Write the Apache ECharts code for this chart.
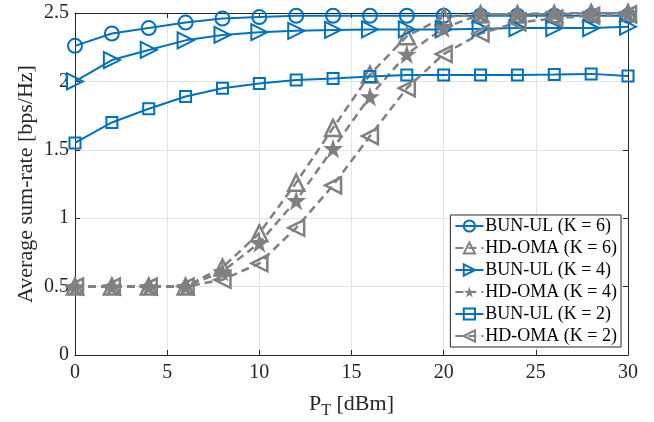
<!DOCTYPE html>
<html>
<head>
<meta charset="utf-8">
<script src="https://cdn.jsdelivr.net/npm/echarts@6/dist/echarts.min.js"></script>
<style>
  html, body { margin: 0; padding: 0; background: #fff; }
  #chart { width: 654px; height: 422px; }
</style>
</head>
<body>
<div id="chart"></div>
<script>
// transmit power P_T [dBm]
const pt = [0, 2, 4, 6, 8, 10, 12, 14, 16, 18, 20, 22, 24, 26, 28, 30]

const bunK6 = [2.26, 2.35, 2.39, 2.43, 2.46, 2.47, 2.48, 2.48, 2.48, 2.48, 2.48, 2.48, 2.48, 2.48, 2.48, 2.48]
const omaK6 = [0.5, 0.5, 0.5, 0.5, 0.64, 0.89, 1.26, 1.66, 2.05, 2.33, 2.47, 2.49, 2.49, 2.49, 2.5, 2.5]
const bunK4 = [2.0, 2.156, 2.23, 2.30, 2.34, 2.36, 2.37, 2.376, 2.38, 2.38, 2.38, 2.385, 2.39, 2.39, 2.39, 2.40]
const omaK4 = [0.5, 0.5, 0.5, 0.5, 0.61, 0.82, 1.13, 1.51, 1.89, 2.2, 2.39, 2.49, 2.49, 2.5, 2.5, 2.5]
const bunK2 = [1.55, 1.70, 1.80, 1.89, 1.95, 1.985, 2.01, 2.022, 2.035, 2.047, 2.047, 2.047, 2.047, 2.05, 2.055, 2.04]
const omaK2 = [0.5, 0.5, 0.5, 0.5, 0.55, 0.67, 0.93, 1.24, 1.6, 1.95, 2.2, 2.35, 2.43, 2.46, 2.48, 2.49]

const xTicks = [0, 5, 10, 15, 20, 25, 30]
const yTicks = [0, 0.5, 1, 1.5, 2, 2.5]

const blue = '#0072BD'
const gray = '#808080'
const ink = '#262626'
const serif = 'Liberation Serif'
const star = 'path://M50,0 L61,35 L98,35 L68,57 L79,91 L50,70 L21,91 L32,57 L2,35 L39,35 Z'

function pairs (ys) {
  return pt.map((x, i) => [x, ys[i]])
}

function bunSeries (name, ys, symbol, rotate, size) {
  return {
    name: name,
    type: 'line',
    data: pairs(ys),
    symbol: symbol,
    symbolRotate: rotate,
    symbolSize: size,
    showAllSymbol: true,
    lineStyle: { color: blue, width: 2 },
    itemStyle: { color: 'rgba(255,255,255,0)', borderColor: blue, borderWidth: 2 },
    emphasis: { disabled: true }
  }
}

function omaSeries (name, ys, symbol, rotate, size, filled) {
  return {
    name: name,
    type: 'line',
    data: pairs(ys),
    symbol: symbol,
    symbolRotate: rotate,
    symbolSize: size,
    showAllSymbol: true,
    lineStyle: { color: gray, width: 2.5, type: [8, 5] },
    itemStyle: {
      color: filled ? gray : 'rgba(255,255,255,0)',
      borderColor: gray,
      borderWidth: filled ? 0 : 2.5
    },
    emphasis: { disabled: true }
  }
}

let chart = echarts.init(document.getElementById('chart'))

const gridLine = { show: true, lineStyle: { color: '#e3e3e3', width: 1 } }
const axisLine = { show: true, onZero: false, lineStyle: { color: ink, width: 1 } }
const tick = { show: true, inside: true, length: 5, lineStyle: { color: ink } }

let option = {
  animation: false,
  backgroundColor: '#fff',
  textStyle: { fontFamily: serif },
  grid: { left: 75, right: 26, top: 13, bottom: 67, outerBoundsMode: 'none' },
  xAxis: [
    {
      type: 'value',
      min: 0,
      max: 30,
      interval: 5,
      name: '{p|P}{t|T}{p| [dBm]}',
      nameLocation: 'middle',
      nameGap: 34,
      nameMoveOverlap: false,
      nameTextStyle: {
        rich: {
          p: { fontFamily: serif, fontSize: 22, color: ink },
          t: { fontFamily: serif, fontSize: 16, color: ink, verticalAlign: 'bottom', padding: [14, 0, 0, 0] }
        }
      },
      axisLine: axisLine,
      axisTick: tick,
      axisLabel: { fontFamily: serif, fontSize: 20, color: ink, margin: 8, customValues: xTicks },
      splitLine: gridLine
    },
    {
      type: 'value',
      position: 'top',
      min: 0,
      max: 30,
      interval: 5,
      axisLine: axisLine,
      axisTick: tick,
      axisLabel: { show: false },
      splitLine: { show: false }
    }
  ],
  yAxis: [
    {
      type: 'value',
      min: 0,
      max: 2.5,
      interval: 0.5,
      name: 'Average sum-rate [bps/Hz]',
      nameLocation: 'middle',
      nameGap: 38,
      nameMoveOverlap: false,
      nameTextStyle: { fontFamily: serif, fontSize: 22, color: ink },
      axisLine: axisLine,
      axisTick: tick,
      axisLabel: {
        fontFamily: serif,
        fontSize: 20,
        color: ink,
        margin: 6,
        customValues: yTicks,
        formatter: v => String(v)
      },
      splitLine: gridLine
    },
    {
      type: 'value',
      position: 'right',
      min: 0,
      max: 2.5,
      interval: 0.5,
      axisLine: axisLine,
      axisTick: tick,
      axisLabel: { show: false },
      splitLine: { show: false }
    }
  ],
  legend: {
    orient: 'vertical',
    right: 33,
    top: 215,
    itemWidth: 28,
    itemHeight: 14,
    itemGap: 4,
    padding: [2, 4, 2, 4],
    backgroundColor: '#fff',
    borderColor: ink,
    borderWidth: 1,
    borderRadius: 0,
    textStyle: { fontFamily: serif, fontSize: 18, lineHeight: 18, color: '#000', padding: [0, 0, 0, -3] },
    data: ['BUN-UL (K = 6)', 'HD-OMA (K = 6)', 'BUN-UL (K = 4)', 'HD-OMA (K = 4)', 'BUN-UL (K = 2)', 'HD-OMA (K = 2)']
  },
  series: [
    bunSeries('BUN-UL (K = 6)', bunK6, 'circle', 0, 14),
    omaSeries('HD-OMA (K = 6)', omaK6, 'triangle', 0, 16, false),
    bunSeries('BUN-UL (K = 4)', bunK4, 'triangle', -90, 16),
    omaSeries('HD-OMA (K = 4)', omaK4, star, 0, 20, true),
    bunSeries('BUN-UL (K = 2)', bunK2, 'rect', 0, 11),
    omaSeries('HD-OMA (K = 2)', omaK2, 'triangle', 90, 16, false)
  ]
}

option && chart.setOption(option)
</script>
</body>
</html>
